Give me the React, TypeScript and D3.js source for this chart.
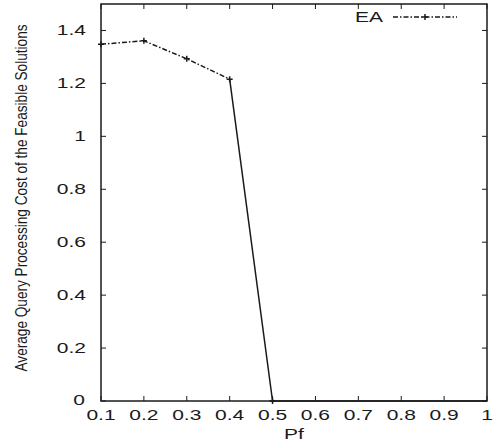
import React from "react";
import * as d3 from "d3";

const pfValues = [0.1, 0.2, 0.3, 0.4, 0.5, 0.6, 0.7, 0.8, 0.9, 1.0];
const eaCost = [1.348, 1.361, 1.293, 1.216, 0, 0, 0, 0, 0, 0];
const xTicks = [0.1, 0.2, 0.3, 0.4, 0.5, 0.6, 0.7, 0.8, 0.9, 1];
const yTicks = [0, 0.2, 0.4, 0.6, 0.8, 1, 1.2, 1.4];
const seriesName = "EA";
const xLabel = "Pf";
const yLabel = "Average Query Processing Cost of the Feasible Solutions";

const W = 498;
const H = 447;
const L = 101, R = 487, T = 4, B = 401;
const FONT = "'Liberation Sans', Arial, Helvetica, sans-serif";
const INK = "#1a1a1a";
const DASH = "5 2 1.5 2";

export default function App() {
  const x = d3.scaleLinear().domain([0.1, 1]).range([L, R]);
  const y = d3.scaleLinear().domain([0, 1.5]).range([B, T]);
  const pts = pfValues.map((p, i) => [x(p), y(eaCost[i])] as [number, number]);
  const line = d3.line();
  const dashed = line(pts.slice(0, 4)) || "";
  const solid = line(pts.slice(3)) || "";
  const fmtY = (v: number) => (v === 0 ? "0" : d3.format("~g")(v));
  const tl = 5;
  const plus = (cx: number, cy: number, s = 3) =>
    `M${cx - s},${cy}H${cx + s}M${cx},${cy - s}V${cy + s}`;

  return (
    <svg width={W} height={H} style={{ display: "block", position: "absolute", left: 0, top: 0 }}>
      <rect x={0} y={0} width={W} height={H} fill="#fff" />
      {/* frame */}
      <rect x={L} y={T} width={R - L} height={B - T} fill="none" stroke={INK} strokeWidth={1.5} />
      {/* y ticks */}
      {yTicks.map((t) => (
        <g key={"y" + t}>
          <line x1={L} x2={L + tl} y1={y(t)} y2={y(t)} stroke={INK} strokeWidth={1} />
          <line x1={R} x2={R - tl} y1={y(t)} y2={y(t)} stroke={INK} strokeWidth={1} />
          <text
            transform={`translate(${t === 0 ? 85 : 86},${y(t) + (t === 0 ? 4 : 5)}) scale(1.5,1)`}
            textAnchor="end"
            fontFamily={FONT}
            fontSize={14}
            fill={INK}
          >
            {fmtY(t)}
          </text>
        </g>
      ))}
      {/* x ticks */}
      {xTicks.map((t) => (
        <g key={"x" + t}>
          <line x1={x(t)} x2={x(t)} y1={B} y2={B - tl} stroke={INK} strokeWidth={1} />
          <line x1={x(t)} x2={x(t)} y1={T} y2={T + tl} stroke={INK} strokeWidth={1} />
          <text
            transform={`translate(${x(t)},${B + 19}) scale(1.5,1)`}
            textAnchor="middle"
            fontFamily={FONT}
            fontSize={14}
            fill={INK}
          >
            {d3.format("~g")(t)}
          </text>
        </g>
      ))}
      {/* axis labels */}
      <text
        transform={`translate(${(L + R) / 2},439) scale(1.5,1)`}
        textAnchor="middle"
        fontFamily={FONT}
        fontSize={14}
        fill={INK}
      >
        {xLabel}
      </text>
      <text
        transform={`translate(27,198) rotate(-90) scale(1,1.5)`}
        textAnchor="middle"
        fontFamily={FONT}
        fontSize={11}
        textLength={347}
        lengthAdjust="spacingAndGlyphs"
        fill={INK}
      >
        {yLabel}
      </text>
      {/* series */}
      <path d={dashed} fill="none" stroke={INK} strokeWidth={1.5} strokeDasharray={DASH} />
      <path d={solid} fill="none" stroke={INK} strokeWidth={1.5} />
      {pts.slice(0, 5).map(([cx, cy], i) => (
        <path key={"m" + i} d={plus(cx, cy)} stroke={INK} strokeWidth={1.5} fill="none" />
      ))}
      {/* legend */}
      <text
        transform={`translate(383,22) scale(1.5,1)`}
        textAnchor="end"
        fontFamily={FONT}
        fontSize={14}
        fill={INK}
      >
        {seriesName}
      </text>
      <line x1={393} x2={457} y1={17} y2={17} stroke={INK} strokeWidth={1.5} strokeDasharray={DASH} />
      <path d={plus(425, 17)} stroke={INK} strokeWidth={1.5} fill="none" />
    </svg>
  );
}
